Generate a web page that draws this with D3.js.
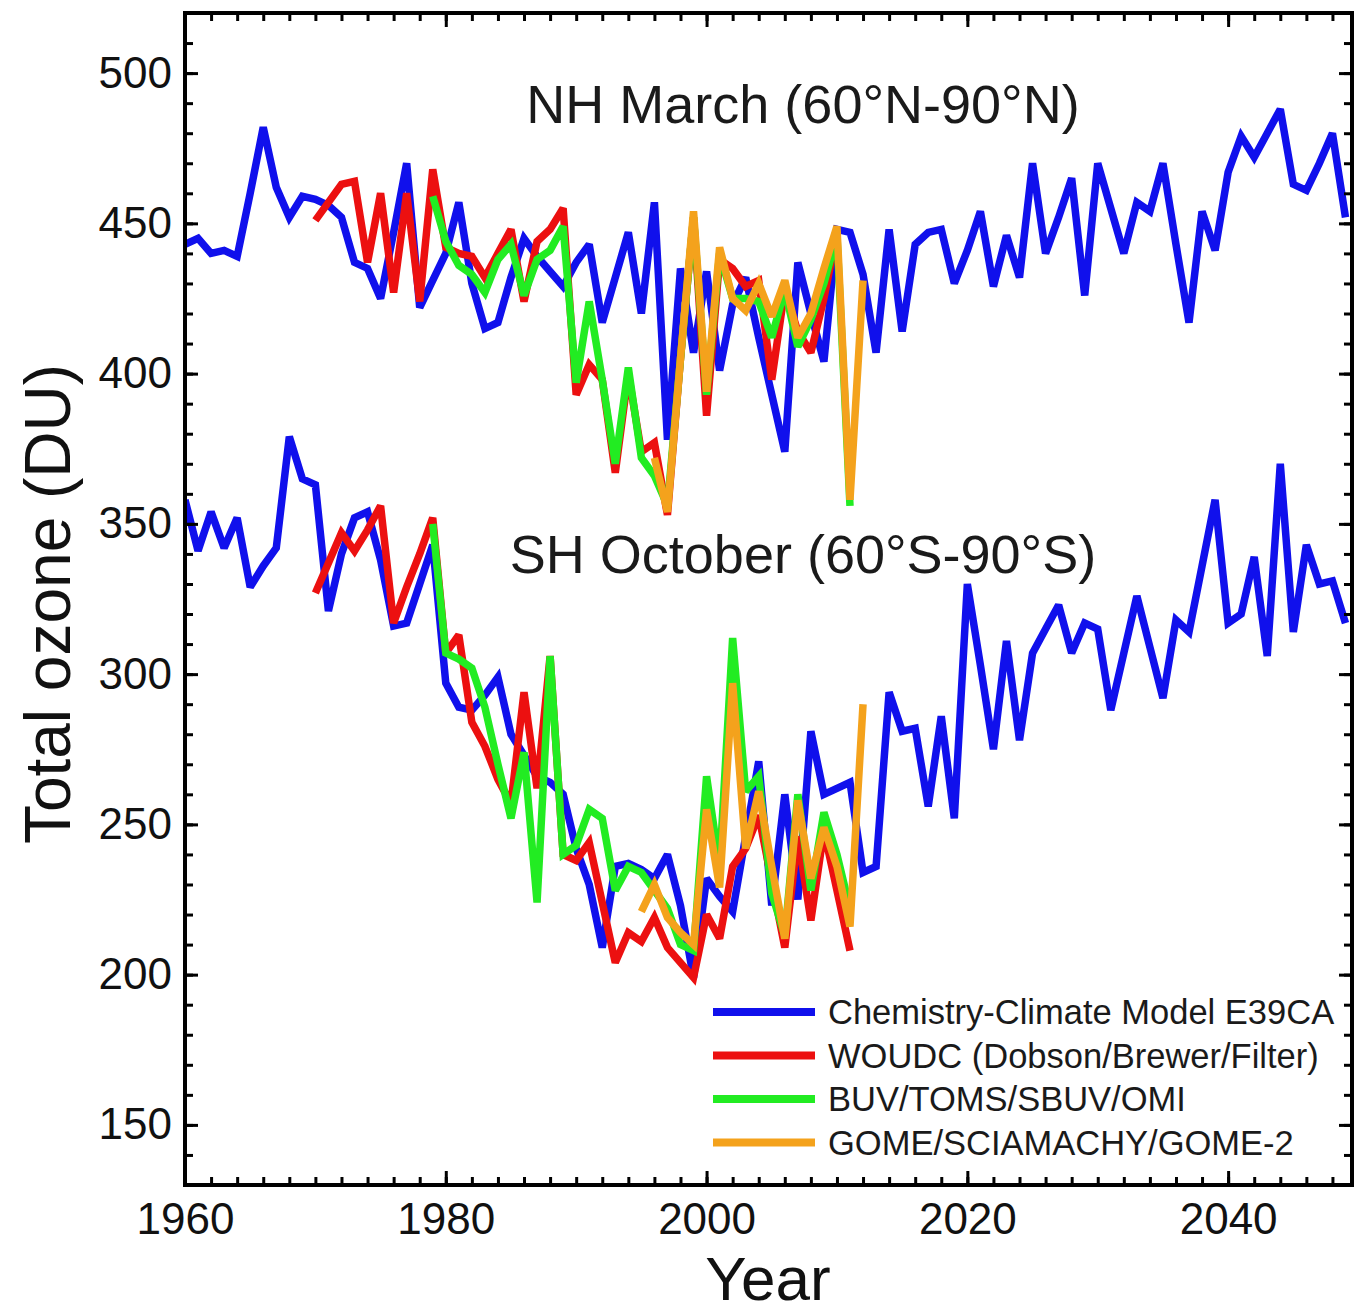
<!DOCTYPE html>
<html>
<head>
<meta charset="utf-8">
<script src="https://cdn.jsdelivr.net/npm/d3@7"></script>
<style>
  body { margin: 0; background: #fff; }
  svg { display: block; }
</style>
</head>
<body>
<div id="chart"></div>
<script>
// NH March (60N-90N), model E39CA, one value per year from 1960
const nhModelStart = 1960
const nhModel = [443, 445, 440, 441, 439, 460, 482, 462, 452, 459,
  458, 456, 452, 437, 435, 425, 447, 470, 422, 431,
  440, 457, 430, 415, 417, 432, 445, 439, 434, 429,
  437, 443, 417, 432, 447, 420, 457, 378, 435, 407,
  434, 401, 423, 432, 412, 393, 374, 437, 420, 404,
  448, 447, 433, 407, 448, 414, 443, 447, 448, 430,
  441, 454, 429, 446, 432, 470, 440, 452, 465, 426,
  470, 455, 440, 457, 454, 470, 443, 417, 454, 441,
  467, 479, 472, 480, 488, 463, 461, 470, 480, 452]

// SH October (60S-90S), model E39CA
const shModelStart = 1960
const shModel = [358, 341, 354, 342, 352, 329, 336, 342, 379, 365,
  363, 321, 340, 352, 354, 338, 316, 317, 330, 343,
  297, 289, 288, 293, 299, 280, 273, 266, 264, 260,
  242, 230, 209, 236, 237, 235, 232, 240, 223, 199,
  232, 226, 221, 246, 271, 223, 260, 225, 281, 260,
  262, 264, 234, 236, 294, 281, 282, 256, 286, 252,
  330, 303, 275, 311, 278, 307, 315, 323, 307, 317,
  315, 288, 307, 326, 309, 292, 318, 314, 336, 358,
  317, 320, 339, 306, 370, 314, 343, 330, 331, 317]

// WOUDC ground stations
const nhWoudcStart = 1970
const nhWoudc = [451, 457, 463, 464, 437, 460, 427, 460, 424, 468,
  442, 440, 439, 432, 440, 448, 424, 444, 448, 455,
  393, 403, 398, 367, 400, 374, 377, 353, 405, 452,
  386, 438, 435, 429, 431, 398, 428, 414, 407, 425, 447]
const shWoudcStart = 1970
const shWoudc = [327, 337, 347, 341, 348, 356, 317, 329, 340, 352,
  307, 313, 284, 276, 265, 257, 294, 262, 306, 240,
  238, 244, 224, 204, 214, 211, 219, 209, 204, 199,
  220, 212, 236, 242, 253, 231, 209, 246, 218, 248, 228, 208]

// BUV/TOMS/SBUV/OMI
const nhTomsStart = 1979
const nhToms = [459, 444, 436, 433, 427, 438, 443, 426, 438, 441,
  449, 397, 424, 398, 370, 402, 372, 366, 356, 405,
  452, 393, 440, 425, 425, 424, 412, 428, 409, 418,
  430, 446, 356]
const shTomsStart = 1979
const shToms = [350, 307, 305, 302, 289, 270, 252, 274, 224, 306,
  240, 243, 255, 252, 228, 236, 234, 228, 222, 210,
  208, 266, 236, 312, 261, 266, 227, 213, 260, 228,
  254, 240, 222]

// GOME/SCIAMACHY/GOME-2
const nhGomeStart = 1996
const nhGome = [372, 354, 405, 454, 394, 442, 425, 421, 430, 419,
  431, 412, 420, 435, 449, 358, 431]
const shGomeStart = 1995
const shGome = [221, 230, 219, 214, 210, 255, 229, 297, 242, 261,
  236, 212, 258, 232, 249, 236, 216, 290]

const legendLabels = ["Chemistry-Climate Model E39CA", "WOUDC (Dobson/Brewer/Filter)",
  "BUV/TOMS/SBUV/OMI", "GOME/SCIAMACHY/GOME-2"]
const colors = ["#1010ec", "#ec1010", "#22ec22", "#f4a21c"]

const yMajor = [150, 200, 250, 300, 350, 400, 450, 500]
const xMajor = [1960, 1980, 2000, 2020, 2040]

const width = 1355
const height = 1312
const font = '"Liberation Sans", Arial, Helvetica, sans-serif'

const svg = d3.select("#chart")
  .append("svg")
  .attr("width", width)
  .attr("height", height)
  .style("background-color", "#fff")

const x = d3.scaleLinear().domain([1960, 2049.5]).range([185, 1352])
const y = d3.scaleLinear().domain([130, 520]).range([1185, 13])

const series = [
  {values: nhModel, start: nhModelStart, color: colors[0]},
  {values: shModel, start: shModelStart, color: colors[0]},
  {values: nhWoudc, start: nhWoudcStart, color: colors[1]},
  {values: shWoudc, start: shWoudcStart, color: colors[1]},
  {values: nhToms, start: nhTomsStart, color: colors[2]},
  {values: shToms, start: shTomsStart, color: colors[2]},
  {values: nhGome, start: nhGomeStart, color: colors[3]},
  {values: shGome, start: shGomeStart, color: colors[3]}
]

svg.append("defs").append("clipPath").attr("id", "plot")
  .append("rect")
  .attr("x", x(1960)).attr("y", y(520))
  .attr("width", x(2049.5) - x(1960)).attr("height", y(130) - y(520))

const lines = svg.append("g").attr("clip-path", "url(#plot)")

series.forEach(s => {
  const line = d3.line()
    .x((d, i) => x(s.start + i))
    .y(d => y(d))
  lines.append("path")
    .datum(s.values)
    .attr("d", line)
    .attr("fill", "none")
    .attr("stroke", s.color)
    .attr("stroke-width", 7.5)
    .attr("stroke-linejoin", "miter")
    .attr("stroke-miterlimit", 2.5)
})

// axes: ticks point inwards on all four sides
function styleAxis(g) {
  g.select(".domain").remove()
  g.selectAll("line").attr("stroke", "#000").attr("stroke-width", 3)
  g.selectAll("text").attr("font-family", font).attr("font-size", 44).attr("fill", "#111")
}

const yMinor = d3.range(130, 521, 10)
const xMinor = d3.range(1960, 2050, 2)

svg.append("g").attr("transform", `translate(${x(1960)},0)`)
  .call(d3.axisLeft(y).tickValues(yMinor).tickSizeInner(-8).tickSizeOuter(0).tickFormat(""))
  .call(styleAxis)
svg.append("g").attr("transform", `translate(${x(1960)},0)`)
  .call(d3.axisLeft(y).tickValues(yMajor).tickSizeInner(-13).tickSizeOuter(0).tickPadding(13))
  .call(styleAxis)

svg.append("g").attr("transform", `translate(${x(2049.5)},0)`)
  .call(d3.axisRight(y).tickValues(yMinor).tickSizeInner(-8).tickSizeOuter(0).tickFormat(""))
  .call(styleAxis)
svg.append("g").attr("transform", `translate(${x(2049.5)},0)`)
  .call(d3.axisRight(y).tickValues(yMajor).tickSizeInner(-13).tickSizeOuter(0).tickFormat(""))
  .call(styleAxis)

svg.append("g").attr("transform", `translate(0,${y(130)})`)
  .call(d3.axisBottom(x).tickValues(xMinor).tickSizeInner(-8).tickSizeOuter(0).tickFormat(""))
  .call(styleAxis)
svg.append("g").attr("transform", `translate(0,${y(130)})`)
  .call(d3.axisBottom(x).tickValues(xMajor).tickSizeInner(-14).tickSizeOuter(0).tickPadding(18).tickFormat(d3.format("d")))
  .call(styleAxis)

svg.append("g").attr("transform", `translate(0,${y(520)})`)
  .call(d3.axisTop(x).tickValues(xMinor).tickSizeInner(-8).tickSizeOuter(0).tickFormat(""))
  .call(styleAxis)
svg.append("g").attr("transform", `translate(0,${y(520)})`)
  .call(d3.axisTop(x).tickValues(xMajor).tickSizeInner(-14).tickSizeOuter(0).tickFormat(""))
  .call(styleAxis)

// frame
svg.append("rect")
  .attr("x", x(1960)).attr("y", y(520))
  .attr("width", x(2049.5) - x(1960)).attr("height", y(130) - y(520))
  .attr("fill", "none")
  .attr("stroke", "#000")
  .attr("stroke-width", 4)

// panel titles
svg.append("text")
  .attr("x", 803).attr("y", 123)
  .attr("text-anchor", "middle")
  .attr("font-family", font).attr("font-size", 54).attr("fill", "#1a1a1a")
  .text("NH March (60°N-90°N)")
svg.append("text")
  .attr("x", 803).attr("y", 573)
  .attr("text-anchor", "middle")
  .attr("font-family", font).attr("font-size", 54).attr("fill", "#1a1a1a")
  .text("SH October (60°S-90°S)")

// axis titles
svg.append("text")
  .attr("transform", "translate(70,604) rotate(-90)")
  .attr("text-anchor", "middle")
  .attr("font-family", font).attr("font-size", 64).attr("fill", "#111")
  .text("Total ozone (DU)")
svg.append("text")
  .attr("x", 768).attr("y", 1300)
  .attr("text-anchor", "middle")
  .attr("font-family", font).attr("font-size", 62).attr("fill", "#111")
  .text("Year")

// legend
const legend = svg.append("g").attr("transform", "translate(713,1012)")
legendLabels.forEach((label, i) => {
  const row = legend.append("g").attr("transform", `translate(0,${i * 43.5})`)
  row.append("line")
    .attr("x1", 0).attr("x2", 102)
    .attr("stroke", colors[i])
    .attr("stroke-width", 8)
  row.append("text")
    .attr("x", 115).attr("y", 0)
    .attr("dy", "0.36em")
    .attr("font-family", font).attr("font-size", 34.5).attr("fill", "#1a1a1a")
    .text(label)
})
</script>
</body>
</html>
